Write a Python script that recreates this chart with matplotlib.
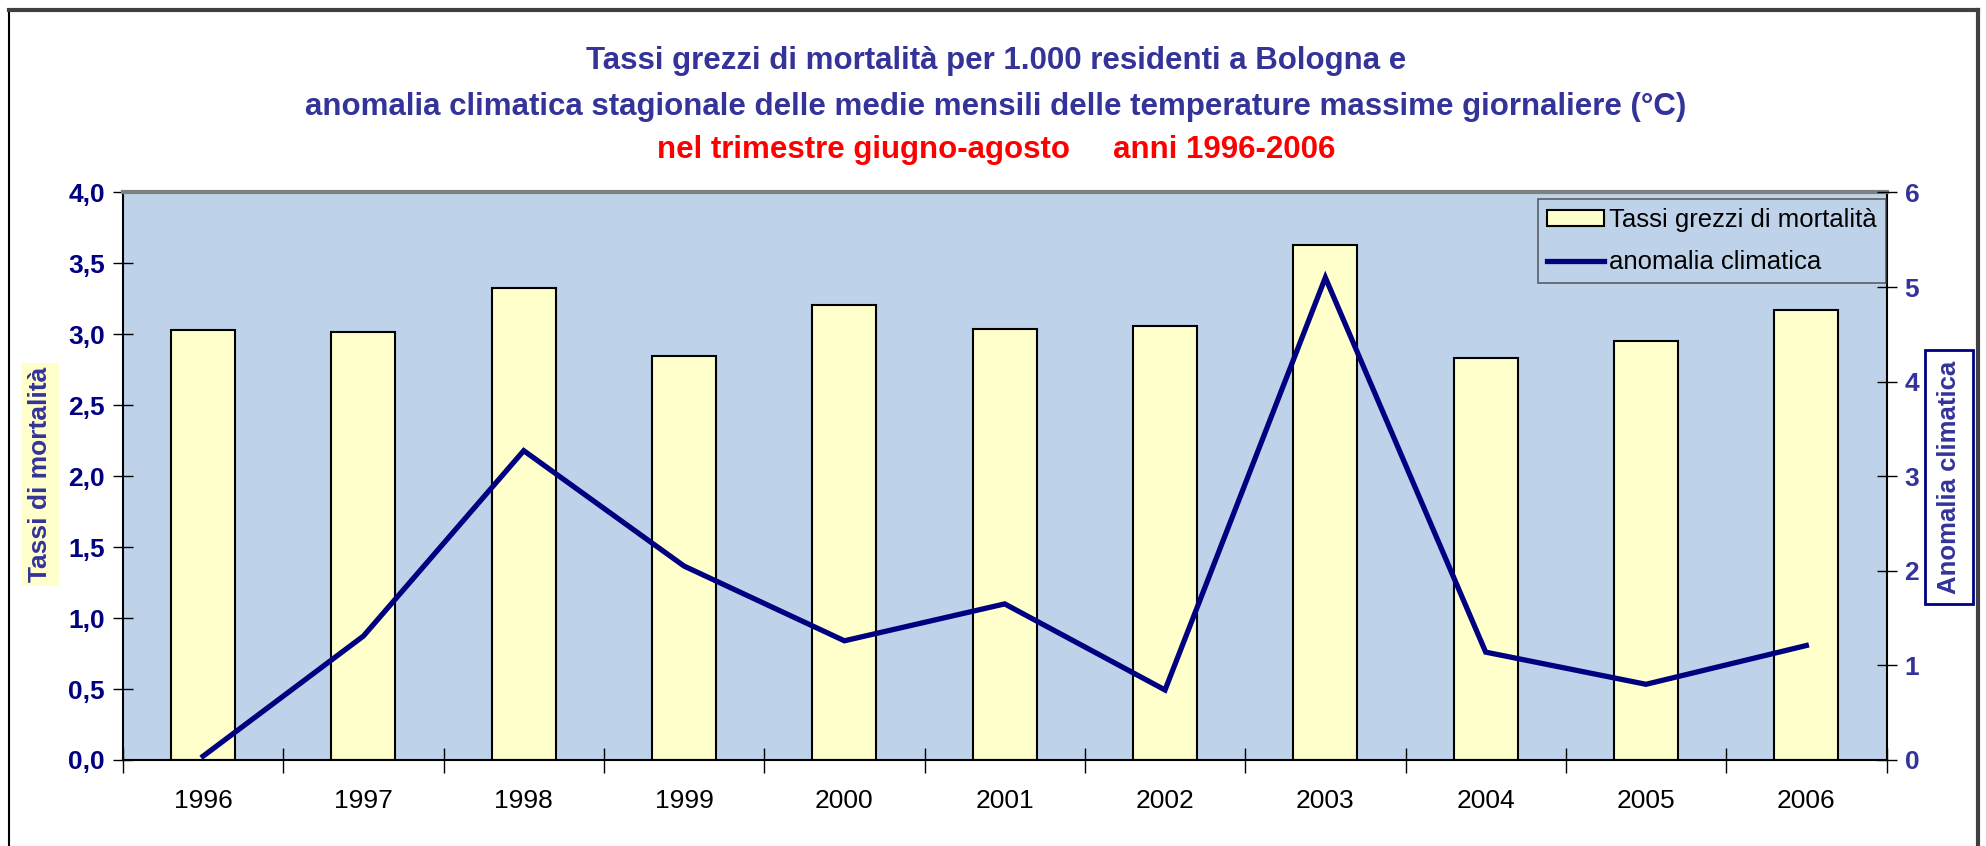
"""
Tassi grezzi di mortalita' e anomalia climatica estiva a Bologna, 1996-2006
"""

import matplotlib
matplotlib.use('Agg')
import matplotlib.pyplot as plt
from matplotlib.lines import Line2D
from matplotlib.patches import Rectangle
import numpy as np

#---------------------------------------------------------------------------------------------------
# Data
#---------------------------------------------------------------------------------------------------

anni = ['1996', '1997', '1998', '1999', '2000', '2001', '2002', '2003', '2004', '2005', '2006']

# tassi grezzi di mortalita' per 1.000 residenti (asse sinistro)
tassi = [3.03, 3.02, 3.33, 2.85, 3.21, 3.04, 3.06, 3.63, 2.83, 2.95, 3.17]

# anomalia climatica delle massime giornaliere, gradi C (asse destro)
anomalia = [0.04, 1.31, 3.27, 2.05, 1.26, 1.65, 0.74, 5.10, 1.14, 0.80, 1.21]

left_ticks = [0.0, 0.5, 1.0, 1.5, 2.0, 2.5, 3.0, 3.5, 4.0]
right_ticks = [0, 1, 2, 3, 4, 5, 6]

#---------------------------------------------------------------------------------------------------
# Plot
#---------------------------------------------------------------------------------------------------

plt.rcParams['font.family'] = ['Liberation Sans', 'DejaVu Sans']

navy = '#000080'
indigo = '#333399'
bg = '#BED3E9'
cream = '#FFFFCC'

fig = plt.figure(figsize=(19.86, 8.46), dpi=100)
ax = fig.add_axes([0.0619, 0.1017, 0.888, 0.6708])
ax.set_facecolor(bg)

x = np.arange(len(anni))
ax.bar(x, tassi, width=0.4, color=cream, edgecolor='black', linewidth=1.5,
       label='Tassi grezzi di mortalità', zorder=2)
ax.set_xlim(-0.5, len(anni) - 0.5)
ax.set_ylim(0, 4)
ax.set_yticks(left_ticks)
ax.set_yticklabels([f'{v:.1f}'.replace('.', ',') for v in left_ticks])
ax.tick_params(axis='y', direction='inout', length=14, width=1, labelsize=19,
               labelcolor=navy, pad=6)
for t in ax.get_yticklabels():
    t.set_fontweight('bold')

ax.set_xticks(x)
ax.set_xticklabels(anni)
ax.tick_params(axis='x', which='major', length=0, labelsize=19, pad=21)
ax.set_xticks(np.arange(-0.5, len(anni)), minor=True)
ax.tick_params(axis='x', which='minor', direction='inout', length=18, width=1)

for s in ['left', 'bottom', 'right']:
    ax.spines[s].set_linewidth(1.5)
    ax.spines[s].set_color('black')
ax.spines['top'].set_color('#808080')
ax.spines['top'].set_linewidth(3)

ax2 = ax.twinx()
ax2.plot(x, anomalia, color=navy, lw=3.8, label='anomalia climatica', zorder=3,
         solid_joinstyle='miter')
ax2.set_ylim(0, 6)
ax2.set_yticks(right_ticks)
ax2.tick_params(axis='y', direction='inout', length=14, width=1, labelsize=19,
                labelcolor=indigo, pad=6)
for t in ax2.get_yticklabels():
    t.set_fontweight('bold')
for s in ax2.spines.values():
    s.set_visible(False)

# legend
handles = [Rectangle((0, 0), 1, 1, facecolor=cream, edgecolor='black', linewidth=1.5),
           Line2D([0], [0], color=navy, lw=3.8)]
leg = ax2.legend(handles, ['Tassi grezzi di mortalità', 'anomalia climatica'],
                 loc='upper right', bbox_to_anchor=(0.9995, 0.988), borderaxespad=0,
                 fontsize=18.5, frameon=True, fancybox=False, facecolor=bg,
                 edgecolor='#404040', handlelength=2.2, handleheight=0.6,
                 handletextpad=0.2, labelspacing=0.7, borderpad=0.35)
leg.get_frame().set_linewidth(1.2)


def boxed_label(xc, yc, text, fc, ec, padx, pady, fontsize):
    """Vertical axis title with a rectangle behind it (separate x/y padding, in pixels)"""
    t = fig.text(xc, yc, text, rotation=90, ha='center', va='center', fontsize=fontsize,
                 fontweight='bold', color=indigo, zorder=5)
    fig.canvas.draw()
    bb = t.get_window_extent().transformed(fig.transFigure.inverted())
    W, H = fig.bbox.width, fig.bbox.height
    fig.add_artist(Rectangle((bb.x0 - padx / W, bb.y0 - pady / H),
                             bb.width + 2 * padx / W, bb.height + 2 * pady / H,
                             transform=fig.transFigure, facecolor=fc,
                             edgecolor=ec, linewidth=2 if ec != 'none' else 0, zorder=4))


# axis titles
boxed_label(0.0201, 0.439, 'Tassi di mortalità', cream, 'none', 7, 4, 19)
boxed_label(0.9812, 0.4362, 'Anomalia climatica', 'white', navy, 12, 10, 18.5)

# titles
fig.text(0.5015, 0.928, 'Tassi grezzi di mortalità per 1.000 residenti a Bologna e',
         ha='center', va='center', fontsize=22.5, fontweight='bold', color=indigo)
fig.text(0.5015, 0.874,
         'anomalia climatica stagionale delle medie mensili delle temperature massime giornaliere (°C)',
         ha='center', va='center', fontsize=22.5, fontweight='bold', color=indigo)
fig.text(0.5015, 0.823, 'nel trimestre giugno-agosto     anni 1996-2006',
         ha='center', va='center', fontsize=22.5, fontweight='bold', color='#FF0000')

# outer frame (open at the bottom)
fig.add_artist(Line2D([0.0045, 0.0045], [0, 0.988], color='black', lw=1.5))
fig.add_artist(Line2D([0.0045, 0.996], [0.988, 0.988], color='#404040', lw=3))
fig.add_artist(Line2D([0.996, 0.996], [0, 0.988], color='#404040', lw=3))

fig.savefig('out.png', dpi=100)
